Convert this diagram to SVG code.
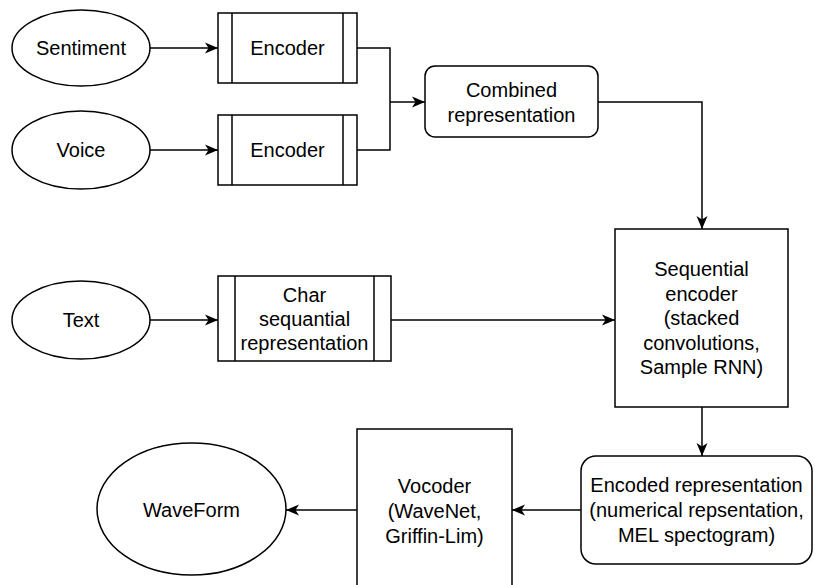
<svg xmlns="http://www.w3.org/2000/svg" width="815" height="585" viewBox="0 0 815 585">
  <defs>
    <marker id="arrow" markerWidth="15" markerHeight="13" refX="14" refY="6.5" orient="auto" markerUnits="userSpaceOnUse">
      <path d="M1,1 L14,6.5 L1,12 L4.5,6.5 Z" fill="#000"/>
    </marker>
    <style>
      .shape { fill: #fff; stroke: #000; stroke-width: 1.5; }
      .edge { fill: none; stroke: #000; stroke-width: 1.5; marker-end: url(#arrow); }
      .plain { fill: none; stroke: #000; stroke-width: 1.5; }
      text { font-family: "Liberation Sans", Arial, sans-serif; font-size: 20px; fill: #000; text-anchor: middle; }
    </style>
  </defs>

  <rect width="815" height="585" fill="#fff"/>

  <g id="connectors">
    <path class="edge" d="M150,48 L218,48"/>
    <path class="edge" d="M150,150 L218,150"/>
    <path class="plain" d="M357,48 L390,48 L390,150 L357,150"/>
    <path class="edge" d="M390,102 L425,102"/>
    <path class="edge" d="M598,102 L702,102 L702,229"/>
    <path class="edge" d="M150,320 L218,320"/>
    <path class="edge" d="M391,320 L615,320"/>
    <path class="edge" d="M702,407 L702,456"/>
    <path class="edge" d="M581,510 L512,510"/>
    <path class="edge" d="M357,510 L286,510"/>
  </g>

  <g id="sentiment">
    <ellipse class="shape" cx="81" cy="48" rx="69" ry="38"/>
    <text x="81" y="55">Sentiment</text>
  </g>
  <g id="voice">
    <ellipse class="shape" cx="81" cy="150" rx="69" ry="39"/>
    <text x="81" y="157">Voice</text>
  </g>
  <g id="encoder-sentiment">
    <rect class="shape" x="218" y="13" width="139" height="70"/>
    <path class="plain" d="M232,13 V83 M343,13 V83"/>
    <text x="287.5" y="55">Encoder</text>
  </g>
  <g id="encoder-voice">
    <rect class="shape" x="218" y="115" width="139" height="70"/>
    <path class="plain" d="M232,115 V185 M343,115 V185"/>
    <text x="287.5" y="157">Encoder</text>
  </g>
  <g id="combined">
    <rect class="shape" x="425" y="66" width="173" height="71" rx="10"/>
    <text x="511.5" y="97">Combined</text>
    <text x="511.5" y="122">representation</text>
  </g>
  <g id="text-input">
    <ellipse class="shape" cx="81" cy="320" rx="69" ry="39"/>
    <text x="81" y="327">Text</text>
  </g>
  <g id="char-seq">
    <rect class="shape" x="218" y="276" width="173" height="85"/>
    <path class="plain" d="M235,276 V361 M374,276 V361"/>
    <text x="304.5" y="302">Char</text>
    <text x="304.5" y="326">sequantial</text>
    <text x="304.5" y="350">representation</text>
  </g>
  <g id="seq-encoder">
    <rect class="shape" x="615" y="229" width="173" height="178"/>
    <text x="701.5" y="276">Sequential</text>
    <text x="701.5" y="300.5">encoder</text>
    <text x="701.5" y="325">(stacked</text>
    <text x="701.5" y="349.5">convolutions,</text>
    <text x="701.5" y="374">Sample RNN)</text>
  </g>
  <g id="encoded">
    <rect class="shape" x="581" y="456" width="231" height="108" rx="15"/>
    <text x="696.5" y="492">Encoded representation</text>
    <text x="696.5" y="517">(numerical repsentation,</text>
    <text x="696.5" y="542">MEL spectogram)</text>
  </g>
  <g id="vocoder">
    <rect class="shape" x="357" y="429" width="155" height="170"/>
    <text x="434.5" y="493">Vocoder</text>
    <text x="434.5" y="518">(WaveNet,</text>
    <text x="434.5" y="543">Griffin-Lim)</text>
  </g>
  <g id="waveform">
    <ellipse class="shape" cx="191.5" cy="509" rx="94.5" ry="66"/>
    <text x="191.5" y="517">WaveForm</text>
  </g>
</svg>
